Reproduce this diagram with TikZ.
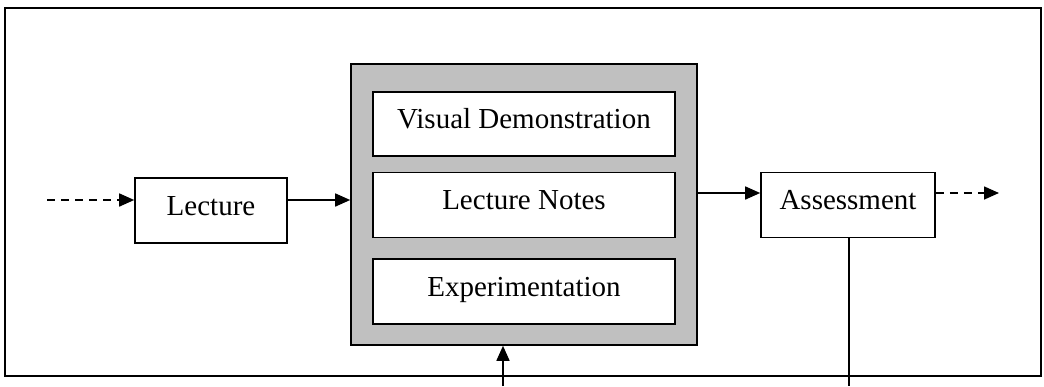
\documentclass[tikz,border=0pt]{standalone}
\usepackage{fontspec}
\setmainfont{Liberation Serif}
\usetikzlibrary{arrows.meta}
\begin{document}
\begin{tikzpicture}[x=1pt,y=-1pt,line width=1.6pt,
  box/.style={draw=black,fill=white,inner sep=0pt,text height=20pt,text depth=11pt,
    font=\fontsize{29}{34}\selectfont},
  panel/.style={draw=black,fill=panelgrey,inner sep=0pt},
  flow/.style={-{Triangle[length=15pt,width=13pt]}},
  dashflow/.style={flow,dash pattern=on 8pt off 6pt}]
\definecolor{panelgrey}{HTML}{C0C0C0}
\useasboundingbox (0,0) rectangle (1044,386);
% frame
\draw (5,8) rectangle (1041,376);
% nodes
\node[box,minimum width=152pt,minimum height=65pt] (lecture) at (211,210.5) {Lecture};
\node[panel,minimum width=346pt,minimum height=281pt] (grey) at (524,204.5) {};
\node[box,minimum width=302pt,minimum height=64pt] (visual) at (524,124) {Visual Demonstration};
\node[box,minimum width=302pt,minimum height=65pt] (notes) at (524,205) {Lecture Notes};
\node[box,minimum width=302pt,minimum height=65pt] (exper) at (524,291.5) {Experimentation};
\node[box,minimum width=174pt,minimum height=65pt] (assess) at (848,205) {Assessment};
% free ends of connectors
\coordinate (in) at (47,200);
\coordinate (rowr) at (0,193);
\coordinate (out) at (999,193);
\coordinate (fb) at (503,386);
\coordinate (fbr) at (849,386);
% connectors
\draw[dashflow] (in) -- (in -| lecture.west);
\draw[flow] (lecture.east |- in) -- (in -| grey.west);
\draw[flow] (grey.east |- rowr) -- (assess.west |- rowr);
\draw[dashflow] (assess.east |- out) -- (out);
\draw[flow] (fb) -- (fb |- grey.south);
\draw (fbr |- assess.south) -- (fbr);
\end{tikzpicture}
\end{document}
